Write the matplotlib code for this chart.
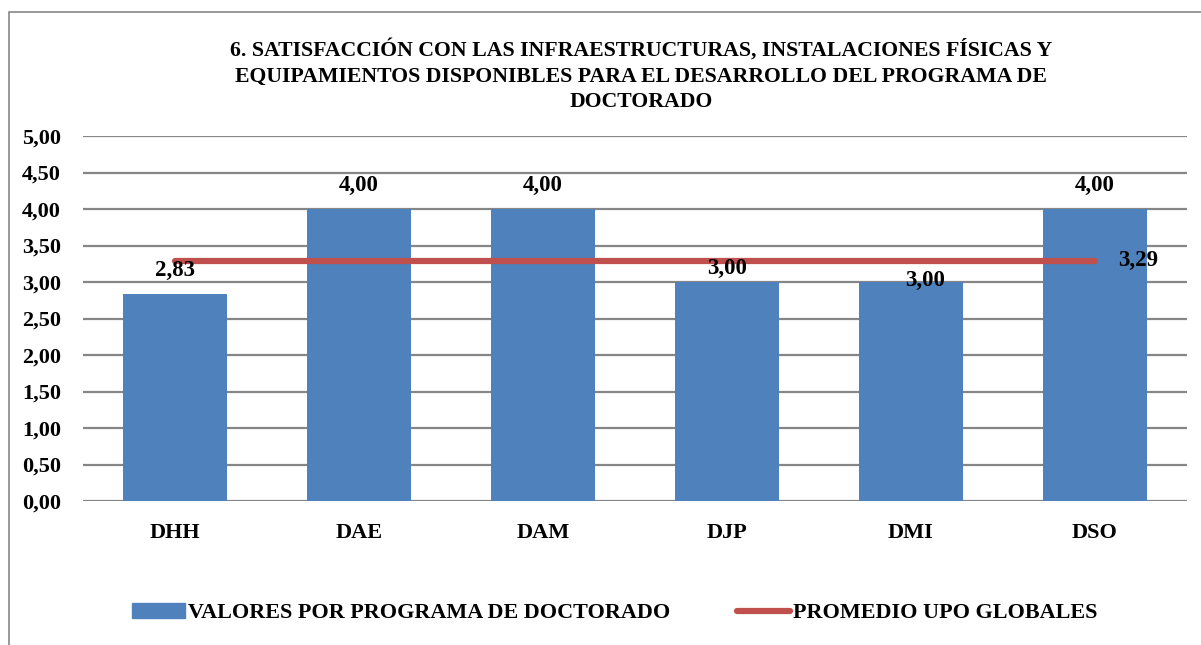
import matplotlib
matplotlib.use('Agg')
import matplotlib.pyplot as plt
from matplotlib.patches import Rectangle, Patch
from matplotlib.lines import Line2D

categories = ['DHH', 'DAE', 'DAM', 'DJP', 'DMI', 'DSO']
values = [2.83, 4.00, 4.00, 3.00, 3.00, 4.00]
promedio = 3.29
title = ('6. SATISFACCIÓN CON LAS INFRAESTRUCTURAS, INSTALACIONES FÍSICAS Y\n'
         'EQUIPAMIENTOS DISPONIBLES PARA EL DESARROLLO DEL PROGRAMA DE\n'
         'DOCTORADO')
series_names = ['VALORES POR PROGRAMA DE DOCTORADO', 'PROMEDIO UPO GLOBALES']

BAR = '#4F81BD'
RED = '#C0504D'
GRID = '#868686'
serif = 'Liberation Serif'

def fmt(v):
    return '{:.2f}'.format(v).replace('.', ',')

fig = plt.figure(figsize=(12.01, 6.45), dpi=100)
W, H = 1201, 645
ax = fig.add_axes([83 / W, 1 - 501 / H, (1187 - 83) / W, (501 - 136) / H])

# chart frame (continues past the right/bottom edge)
fig.patches.append(Rectangle((9 / W, -0.05), 1.2, 1 - 12 / H + 0.05,
                             transform=fig.transFigure, fill=False,
                             edgecolor='#888888', linewidth=1.2))

x = list(range(len(categories)))
ax.bar(x, values, width=0.57, color=BAR, zorder=2)
ax.plot([x[0], x[-1]], [promedio, promedio], color=RED, linewidth=4.5,
        solid_capstyle='round', zorder=3)

# bar labels (pixel offsets mimic the original placement)
offsets = [(0, 24), (0, 24), (0, 24), (0, 14), (14, 2), (0, 24)]
for xi, v, (dx, dy) in zip(x, values, offsets):
    ax.annotate(fmt(v), (xi, v), xytext=(dx * 0.72, dy * 0.72),
                textcoords='offset points', ha='center', va='center',
                fontsize=16.5, fontweight='bold', family=serif, zorder=4)
ax.annotate(fmt(promedio), (x[-1], promedio), xytext=(23 * 0.72, 0),
            textcoords='offset points', ha='left', va='center',
            fontsize=16.5, fontweight='bold', family=serif, zorder=4)

ax.set_xlim(-0.5, len(categories) - 0.5)
ax.set_ylim(0, 5)
ax.set_yticks([i * 0.5 for i in range(11)])
ax.set_yticklabels([fmt(i * 0.5) for i in range(11)])
ax.set_xticks(x)
ax.set_xticklabels(categories)
ax.grid(axis='y', color=GRID, linewidth=1.6, zorder=0)
ax.set_axisbelow(True)
for s in ax.spines.values():
    s.set_visible(False)
ax.tick_params(length=0)
ax.tick_params(axis='y', pad=16)
ax.tick_params(axis='x', pad=16)
for lab in ax.get_yticklabels() + ax.get_xticklabels():
    lab.set_fontfamily(serif)
    lab.set_fontweight('bold')
    lab.set_fontsize(16)

fig.text(641 / W, 1 - 39 / H, title, ha='center', va='top', fontsize=15.7,
         fontweight='bold', family=serif, linespacing=1.38)

handles = [Patch(facecolor=BAR, edgecolor=BAR),
           Line2D([], [], color=RED, linewidth=4.5, solid_capstyle='round')]
fig.legend(handles, series_names, loc='center', bbox_to_anchor=(615 / W, 1 - 613 / H),
           ncol=2, frameon=False, prop={'family': serif, 'weight': 'bold', 'size': 15.9},
           handlelength=2.4, handletextpad=0.15, columnspacing=3.0)

fig.savefig('out.png', dpi=100)
